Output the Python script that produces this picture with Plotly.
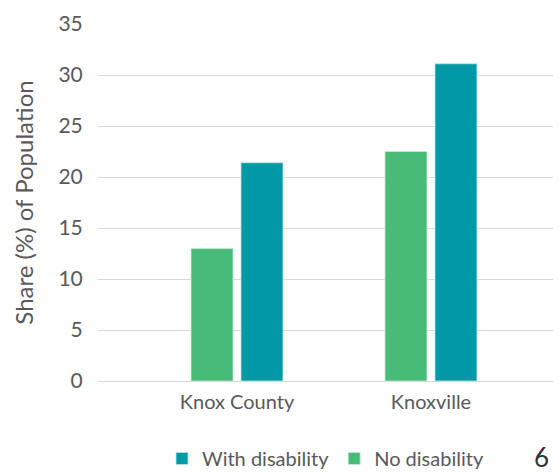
import plotly.graph_objects as go

categories = ["Knox County", "Knoxville"]
no_disability = [13.0, 22.5]
with_disability = [21.4, 31.1]
series_names = ["With disability", "No disability"]
colors = {"With disability": "#009AA6", "No disability": "#48BB78"}
y_ticks = [0, 5, 10, 15, 20, 25, 30, 35]

xpos = list(range(len(categories)))
bar_w = 0.2165

fig = go.Figure()
fig.add_trace(go.Bar(
    x=xpos, y=with_disability, name=series_names[0],
    marker=dict(color=colors["With disability"], line=dict(color="#BFE6E9", width=0.8)),
    width=bar_w, offset=0.0206,
))
fig.add_trace(go.Bar(
    x=xpos, y=no_disability, name=series_names[1],
    marker=dict(color=colors["No disability"], line=dict(color="#C8EBD5", width=0.8)),
    width=bar_w, offset=-0.2371,
))

fig.update_layout(
    width=559, height=473,
    margin=dict(l=98, r=6, t=24, b=92, autoexpand=False),
    paper_bgcolor="white", plot_bgcolor="white",
    font=dict(family="Lato, 'Open Sans', sans-serif", color="#595959"),
    showlegend=True,
    legend=dict(orientation="h", x=0.5, xanchor="center", y=-0.217, yanchor="middle",
                font=dict(size=20, color="#595959"), traceorder="normal"),
    xaxis=dict(range=[-0.7165, 1.629], tickvals=xpos, ticktext=categories,
               showgrid=False, zeroline=False, showline=True, linecolor="#D9D9D9",
               linewidth=1, ticks="outside", ticklen=3, tickcolor="rgba(0,0,0,0)",
               tickfont=dict(size=20, color="#595959"), automargin=False),
    yaxis=dict(range=[0, 35], tickvals=y_ticks, showgrid=True, gridcolor="#D9D9D9",
               gridwidth=1, zeroline=False, ticks="outside", ticklen=10,
               tickcolor="rgba(0,0,0,0)", tickfont=dict(size=21, color="#595959"),
               automargin=False,
               title=dict(text="Share (%) of Population", font=dict(size=24, color="#595959"),
                          standoff=18)),
    annotations=[dict(text="6", x=(541 - 98) / 455, y=(380.5 - 457) / 357,
                      xref="paper", yref="paper", showarrow=False,
                      xanchor="center", yanchor="middle",
                      font=dict(size=26, color="#333333"))],
)

fig.write_html("out.html")
